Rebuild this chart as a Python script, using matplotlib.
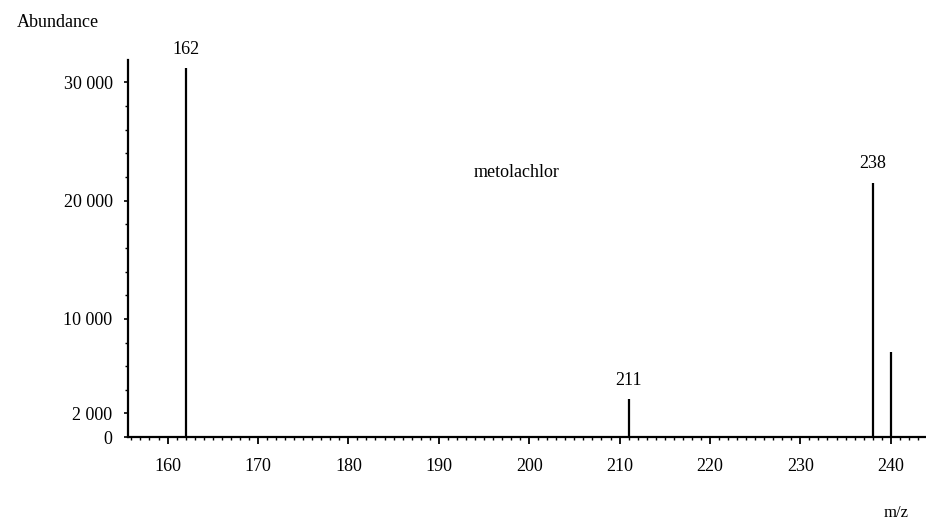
import numpy as np
import matplotlib.pyplot as plt
from matplotlib.ticker import FixedLocator, MultipleLocator

plt.rcParams['font.family'] = ['Liberation Serif', 'DejaVu Serif']

# peaks
mz = [162, 211, 238, 240]
abundance = [31200, 3200, 21500, 7200]
peak_labels = ['162', '211', '238', None]

y_ticks = [0, 2000, 10000, 20000, 30000]
y_tick_labels = ['0', '2 000', '10 000', '20 000', '30 000']
x_ticks = [160, 170, 180, 190, 200, 210, 220, 230, 240]

fig = plt.figure(figsize=(9.26, 5.21), dpi=100)
ax = fig.add_axes([0.138, 0.161, 0.862, 0.724])

ax.vlines(mz, 0, abundance, color='black', lw=1.6)
for x, y, lab in zip(mz, abundance, peak_labels):
    if lab:
        ax.text(x, y + 900, lab, ha='center', va='bottom', fontsize=13)

ax.text(198.6, 22400, 'metolachlor', ha='center', va='center', fontsize=13)

ax.set_xlim(155.6, 243.9)
ax.set_ylim(0, 31900)

ax.spines['top'].set_visible(False)
ax.spines['right'].set_visible(False)
ax.spines['left'].set_linewidth(1.6)
ax.spines['bottom'].set_linewidth(1.6)

ax.xaxis.set_major_locator(FixedLocator(x_ticks))
ax.xaxis.set_minor_locator(MultipleLocator(1))
ax.tick_params(axis='x', which='major', direction='out', length=5, width=1.3,
               labelsize=13, pad=10)
ax.tick_params(axis='x', which='minor', direction='out', length=2.5, width=1.0)

ax.set_yticks(y_ticks)
ax.set_yticklabels(y_tick_labels)
ax.yaxis.set_minor_locator(MultipleLocator(2000))
ax.tick_params(axis='y', which='major', direction='out', length=3, width=1.2,
               labelsize=13, pad=8)
ax.tick_params(axis='y', which='minor', direction='out', length=2, width=1.0)

fig.text(0.062, 0.957, 'Abundance', ha='center', va='center', fontsize=13)
fig.text(0.968, 0.015, 'm/z', ha='center', va='center', fontsize=12)

fig.savefig('out.png', dpi=100)
